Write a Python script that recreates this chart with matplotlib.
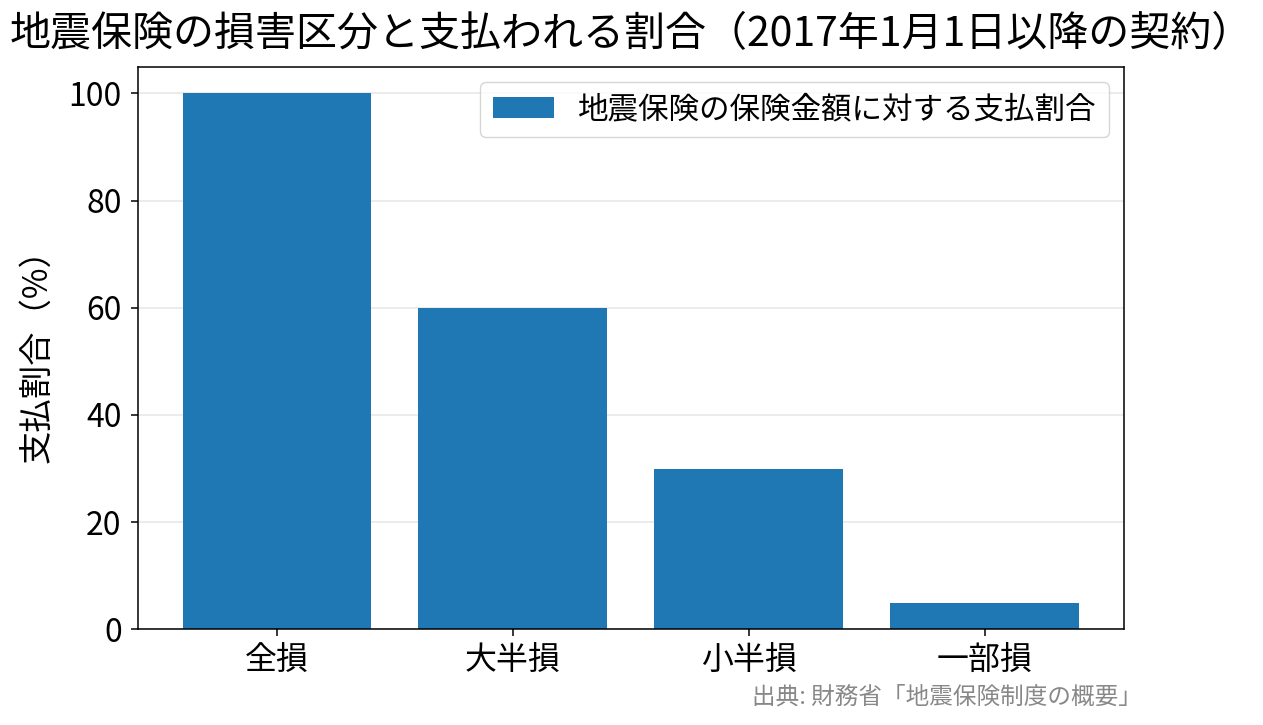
import matplotlib
matplotlib.use('Agg')
import matplotlib.pyplot as plt

plt.rcParams['font.family'] = ['Noto Sans CJK JP', 'DejaVu Sans']

categories = ['全損', '大半損', '小半損', '一部損']
payout_pct = [100, 60, 30, 5]

fig = plt.figure(figsize=(12.63, 7.25), dpi=100)
ax = fig.add_axes([0.109, 0.132, 0.781, 0.776])

ax.bar(categories, payout_pct, width=0.8, color='#1f77b4',
       label='地震保険の保険金額に対する支払割合', zorder=2)
ax.set_ylim(0, 105)
ax.yaxis.grid(True, color='#e6e6e6', linewidth=1.1, zorder=0)
ax.set_axisbelow(True)
ax.tick_params(labelsize=23, length=5, width=1.1, pad=6.5)
for sp in ax.spines.values():
    sp.set_linewidth(1.1)
ax.set_ylabel('支払割合（%）', fontsize=24, labelpad=10)
ax.legend(loc='upper right', fontsize=22)

fig.suptitle('地震保険の損害区分と支払われる割合（2017年1月1日以降の契約）',
             fontsize=29.5, y=0.952, va='center')
fig.text(0.904, 0.038, '出典: 財務省「地震保険制度の概要」', fontsize=17,
         color='#888888', ha='right', va='center')

fig.savefig('out.png', dpi=100)
